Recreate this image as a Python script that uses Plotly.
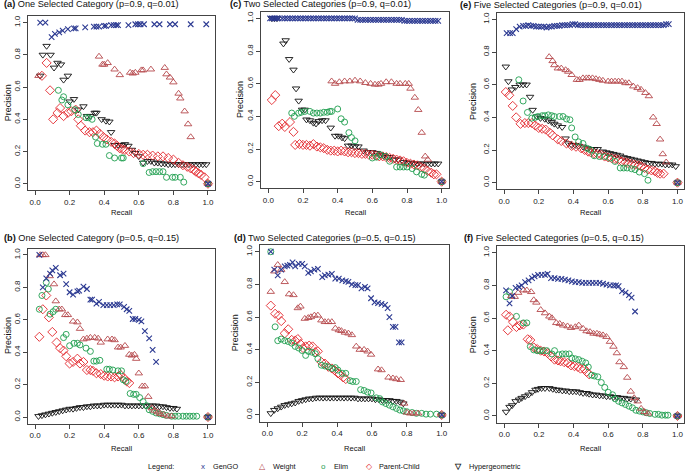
import plotly.graph_objects as go

W, H = 685, 475
FONT = "Liberation Sans, Arial, sans-serif"

# (recall, precision) pairs
a_gengo = [(0.03, 1.0), (0.06, 1.0), (0.096, 0.91), (0.115, 0.93), (0.14, 0.94), (0.16, 0.95),
           (0.19, 0.96), (0.225, 0.965), (0.235, 0.965), (0.29, 0.97), (0.34, 0.975), (0.355, 0.975),
           (0.37, 0.975), (0.40, 0.98), (0.41, 0.98), (0.44, 0.985), (0.455, 0.985), (0.47, 0.985),
           (0.48, 0.985), (0.54, 0.985), (0.58, 0.99), (0.595, 0.99), (0.61, 0.99), (0.63, 0.99),
           (0.69, 0.99), (0.72, 0.99), (0.78, 0.99), (0.81, 0.99), (0.90, 0.99), (0.99, 0.99), (1.0, 0.0)]
a_weight = [(0.02, 0.67), (0.37, 0.79), (0.39, 0.74), (0.40, 0.74), (0.42, 0.75), (0.46, 0.71),
            (0.49, 0.675), (0.55, 0.69), (0.565, 0.685), (0.58, 0.69), (0.615, 0.705), (0.625, 0.705),
            (0.67, 0.71), (0.75, 0.72), (0.76, 0.68), (0.78, 0.66), (0.80, 0.63), (0.83, 0.56),
            (0.84, 0.53), (0.865, 0.45), (0.885, 0.37), (0.90, 0.29), (1.0, 0.0)]
a_elim = [(0.135, 0.58), (0.155, 0.52), (0.165, 0.54), (0.19, 0.49), (0.23, 0.46), (0.25, 0.43),
          (0.295, 0.41), (0.31, 0.41), (0.33, 0.40), (0.35, 0.29), (0.36, 0.25), (0.39, 0.245),
          (0.41, 0.245), (0.43, 0.175), (0.46, 0.16), (0.50, 0.16), (0.51, 0.16), (0.625, 0.125),
          (0.66, 0.07), (0.68, 0.075), (0.70, 0.075), (0.72, 0.075), (0.74, 0.075), (0.76, 0.04),
          (0.795, 0.04), (0.81, 0.04), (0.84, 0.04), (0.86, 0.01), (1.0, 0.0)]
a_pc = [(0.04, 0.67), (0.067, 0.75), (0.087, 0.58), (0.105, 0.40), (0.13, 0.44), (0.145, 0.47),
        (0.165, 0.42), (0.19, 0.44), (0.21, 0.45), (0.235, 0.46), (0.25, 0.40), (0.265, 0.36),
        (0.29, 0.33), (0.315, 0.32), (0.335, 0.32), (0.355, 0.33), (0.375, 0.31), (0.395, 0.29),
        (0.415, 0.275), (0.44, 0.26), (0.46, 0.25), (0.475, 0.235), (0.49, 0.22), (0.505, 0.215),
        (0.52, 0.21), (0.545, 0.20), (0.57, 0.19), (0.60, 0.185), (0.625, 0.18), (0.65, 0.18),
        (0.68, 0.175), (0.71, 0.17), (0.74, 0.17), (0.77, 0.16), (0.80, 0.15), (0.83, 0.13),
        (0.855, 0.115), (0.88, 0.105), (0.90, 0.095), (0.92, 0.085), (0.93, 0.075), (0.945, 0.065),
        (0.96, 0.055), (0.98, 0.04), (1.0, 0.0)]
a_hyper = [(0.03, 0.67), (0.045, 0.80), (0.067, 0.855), (0.09, 0.80), (0.11, 0.72), (0.13, 0.75),
           (0.15, 0.74), (0.165, 0.645), (0.19, 0.67), (0.20, 0.51), (0.225, 0.525), (0.25, 0.46),
           (0.28, 0.48), (0.30, 0.42), (0.32, 0.42), (0.345, 0.44), (0.355, 0.44), (0.385, 0.40),
           (0.41, 0.39), (0.43, 0.385), (0.44, 0.32), (0.46, 0.24), (0.48, 0.24), (0.50, 0.24),
           (0.52, 0.245), (0.54, 0.235), (0.56, 0.21), (0.58, 0.19), (0.60, 0.17), (0.625, 0.13),
           (0.65, 0.14), (0.67, 0.14), (0.69, 0.13), (0.71, 0.13), (0.73, 0.125), (0.75, 0.125),
           (0.77, 0.12), (0.79, 0.12), (0.81, 0.12), (0.83, 0.12), (0.85, 0.12), (0.87, 0.12),
           (0.89, 0.12), (0.91, 0.12), (0.93, 0.12), (0.95, 0.12), (0.97, 0.12), (0.99, 0.12), (1.0, 0.0)]

c_gengo = [(0.01, 1.0), (0.02, 1.0), (0.03, 1.0), (0.04, 1.0), (0.05, 1.0), (0.06, 1.0), (0.08, 1.0),
           (0.095, 1.0), (0.11, 1.0), (0.125, 1.0), (0.14, 1.0), (0.155, 1.0), (0.17, 1.0), (0.185, 1.0),
           (0.20, 1.0), (0.215, 1.0), (0.23, 1.0), (0.245, 1.0), (0.26, 1.0), (0.275, 1.0), (0.29, 1.0),
           (0.305, 1.0), (0.32, 1.0), (0.335, 1.0), (0.35, 1.0), (0.365, 1.0), (0.38, 1.0), (0.395, 1.0),
           (0.41, 1.0), (0.425, 1.0), (0.44, 1.0), (0.455, 1.0), (0.47, 1.0), (0.485, 1.0), (0.50, 1.0),
           (0.515, 0.99), (0.53, 0.99), (0.545, 0.99), (0.56, 0.99), (0.575, 0.99), (0.59, 0.99),
           (0.605, 0.99), (0.62, 0.99), (0.635, 0.99), (0.65, 0.99), (0.665, 0.99), (0.68, 0.99),
           (0.695, 0.99), (0.71, 0.99), (0.725, 0.99), (0.74, 0.99), (0.755, 0.99), (0.77, 0.99),
           (0.785, 0.985), (0.80, 0.985), (0.815, 0.985), (0.83, 0.985), (0.845, 0.985), (0.86, 0.985),
           (0.875, 0.985), (0.89, 0.985), (0.905, 0.985), (0.92, 0.985), (0.935, 0.985), (0.95, 0.985),
           (0.965, 0.985), (0.98, 0.985), (1.0, 0.0)]
c_weight = [(0.365, 0.615), (0.385, 0.60), (0.41, 0.61), (0.44, 0.615), (0.47, 0.615), (0.50, 0.62),
            (0.53, 0.615), (0.56, 0.605), (0.59, 0.60), (0.615, 0.595), (0.635, 0.595), (0.65, 0.60),
            (0.68, 0.61), (0.71, 0.61), (0.74, 0.60), (0.76, 0.60), (0.79, 0.60), (0.81, 0.60),
            (0.82, 0.57), (0.845, 0.515), (0.865, 0.44), (0.885, 0.30), (0.905, 0.155), (0.92, 0.135),
            (1.0, 0.0)]
c_elim = [(0.135, 0.42), (0.15, 0.40), (0.175, 0.42), (0.19, 0.425), (0.21, 0.43), (0.24, 0.43),
          (0.26, 0.42), (0.28, 0.42), (0.30, 0.42), (0.32, 0.425), (0.34, 0.425), (0.355, 0.43),
          (0.365, 0.43), (0.40, 0.445), (0.42, 0.385), (0.44, 0.365), (0.465, 0.30), (0.48, 0.27),
          (0.50, 0.25), (0.60, 0.145), (0.625, 0.15), (0.645, 0.165), (0.675, 0.155), (0.70, 0.125),
          (0.74, 0.09), (0.76, 0.09), (0.78, 0.09), (0.80, 0.09), (0.83, 0.08), (0.855, 0.06),
          (0.885, 0.045), (0.90, 0.04), (1.0, 0.0)]
c_pc = [(0.02, 0.50), (0.04, 0.53), (0.06, 0.34), (0.08, 0.355), (0.095, 0.335), (0.125, 0.365),
        (0.145, 0.305), (0.155, 0.225), (0.18, 0.23), (0.20, 0.225), (0.22, 0.225), (0.24, 0.22),
        (0.26, 0.23), (0.28, 0.215), (0.30, 0.21), (0.32, 0.205), (0.34, 0.195), (0.36, 0.19),
        (0.38, 0.19), (0.40, 0.185), (0.42, 0.19), (0.44, 0.185), (0.46, 0.18), (0.48, 0.18),
        (0.50, 0.175), (0.52, 0.175), (0.54, 0.17), (0.56, 0.17), (0.58, 0.165), (0.60, 0.165),
        (0.62, 0.16), (0.64, 0.155), (0.66, 0.155), (0.68, 0.15), (0.70, 0.145), (0.72, 0.14),
        (0.74, 0.135), (0.76, 0.13), (0.78, 0.125), (0.80, 0.115), (0.82, 0.11), (0.84, 0.105),
        (0.86, 0.10), (0.88, 0.09), (0.90, 0.08), (0.92, 0.065), (0.94, 0.055), (0.955, 0.045),
        (0.97, 0.045), (1.0, 0.0)]
c_hyper = [(0.02, 1.0), (0.035, 1.0), (0.05, 1.0), (0.087, 0.845), (0.10, 0.865), (0.12, 0.75),
           (0.145, 0.685), (0.16, 0.57), (0.175, 0.495), (0.195, 0.44), (0.21, 0.44), (0.22, 0.38),
           (0.24, 0.375), (0.26, 0.36), (0.275, 0.355), (0.29, 0.37), (0.31, 0.375), (0.33, 0.375),
           (0.36, 0.33), (0.385, 0.28), (0.405, 0.28), (0.425, 0.27), (0.44, 0.265), (0.46, 0.22),
           (0.48, 0.22), (0.50, 0.215), (0.52, 0.215), (0.55, 0.19), (0.57, 0.18), (0.60, 0.18),
           (0.625, 0.175), (0.645, 0.165), (0.665, 0.16), (0.685, 0.15), (0.70, 0.15), (0.73, 0.135),
           (0.75, 0.135), (0.78, 0.12), (0.80, 0.115), (0.82, 0.115), (0.84, 0.11), (0.86, 0.11),
           (0.88, 0.11), (0.90, 0.11), (0.92, 0.11), (0.94, 0.11), (0.96, 0.11), (0.98, 0.11), (1.0, 0.0)]

e_gengo = [(0.015, 0.915), (0.035, 0.915), (0.05, 0.915), (0.07, 0.94), (0.09, 0.955), (0.11, 0.96),
           (0.125, 0.96), (0.14, 0.965), (0.155, 0.96), (0.17, 0.96), (0.185, 0.955), (0.20, 0.955),
           (0.215, 0.955), (0.23, 0.955), (0.245, 0.95), (0.26, 0.955), (0.275, 0.955), (0.29, 0.96),
           (0.305, 0.96), (0.32, 0.96), (0.335, 0.965), (0.35, 0.965), (0.365, 0.965), (0.38, 0.965),
           (0.395, 0.97), (0.41, 0.97), (0.425, 0.965), (0.44, 0.965), (0.455, 0.965), (0.47, 0.965),
           (0.485, 0.965), (0.50, 0.965), (0.515, 0.965), (0.53, 0.965), (0.545, 0.965), (0.56, 0.965),
           (0.575, 0.965), (0.59, 0.965), (0.605, 0.965), (0.62, 0.965), (0.635, 0.965), (0.65, 0.965),
           (0.665, 0.965), (0.68, 0.965), (0.695, 0.965), (0.71, 0.965), (0.725, 0.965), (0.74, 0.965),
           (0.755, 0.965), (0.77, 0.965), (0.785, 0.965), (0.80, 0.965), (0.815, 0.965), (0.83, 0.965),
           (0.845, 0.965), (0.86, 0.965), (0.875, 0.965), (0.89, 0.965), (0.905, 0.965), (0.92, 0.965),
           (0.935, 0.97), (0.95, 0.97), (1.0, 0.0)]
e_weight = [(0.26, 0.77), (0.28, 0.745), (0.29, 0.72), (0.31, 0.70), (0.33, 0.70), (0.355, 0.69),
            (0.37, 0.68), (0.39, 0.66), (0.42, 0.63), (0.435, 0.63), (0.455, 0.64), (0.475, 0.64),
            (0.49, 0.64), (0.51, 0.64), (0.53, 0.635), (0.55, 0.63), (0.57, 0.625), (0.60, 0.62),
            (0.62, 0.62), (0.64, 0.62), (0.66, 0.62), (0.68, 0.62), (0.70, 0.61), (0.72, 0.61),
            (0.745, 0.59), (0.77, 0.58), (0.79, 0.57), (0.815, 0.55), (0.835, 0.53), (0.86, 0.40),
            (0.88, 0.36), (0.90, 0.265), (0.915, 0.175), (0.935, 0.125), (1.0, 0.0)]
e_elim = [(0.085, 0.63), (0.11, 0.50), (0.135, 0.43), (0.16, 0.395), (0.18, 0.40), (0.195, 0.405),
          (0.22, 0.41), (0.235, 0.41), (0.255, 0.415), (0.275, 0.41), (0.29, 0.405), (0.32, 0.405),
          (0.34, 0.405), (0.36, 0.39), (0.38, 0.385), (0.39, 0.335), (0.41, 0.28), (0.43, 0.25),
          (0.455, 0.24), (0.48, 0.21), (0.50, 0.20), (0.52, 0.165), (0.55, 0.16), (0.58, 0.16),
          (0.61, 0.15), (0.64, 0.13), (0.67, 0.09), (0.69, 0.09), (0.71, 0.09), (0.735, 0.085),
          (0.755, 0.08), (0.78, 0.065), (0.81, 0.055), (0.83, 0.015), (1.0, 0.0)]
e_pc = [(0.01, 0.555), (0.03, 0.535), (0.05, 0.47), (0.07, 0.40), (0.095, 0.36), (0.12, 0.365),
        (0.14, 0.365), (0.16, 0.365), (0.18, 0.35), (0.20, 0.335), (0.22, 0.33), (0.24, 0.325),
        (0.265, 0.305), (0.28, 0.29), (0.31, 0.265), (0.33, 0.255), (0.36, 0.24), (0.39, 0.225),
        (0.415, 0.22), (0.445, 0.21), (0.465, 0.20), (0.485, 0.19), (0.50, 0.185), (0.52, 0.18),
        (0.54, 0.175), (0.56, 0.17), (0.58, 0.16), (0.60, 0.155), (0.62, 0.15), (0.64, 0.145),
        (0.66, 0.14), (0.68, 0.13), (0.70, 0.125), (0.715, 0.12), (0.735, 0.115), (0.755, 0.11),
        (0.775, 0.105), (0.79, 0.10), (0.81, 0.09), (0.83, 0.08), (0.85, 0.075), (0.87, 0.07),
        (0.885, 0.06), (0.90, 0.055), (0.92, 0.055), (1.0, 0.0)]
e_hyper = [(0.01, 0.71), (0.025, 0.62), (0.045, 0.57), (0.065, 0.585), (0.09, 0.60), (0.11, 0.60),
           (0.13, 0.60), (0.15, 0.525), (0.165, 0.445), (0.19, 0.405), (0.21, 0.395), (0.235, 0.39),
           (0.255, 0.38), (0.275, 0.37), (0.29, 0.36), (0.31, 0.35), (0.335, 0.34), (0.355, 0.27),
           (0.37, 0.24), (0.39, 0.23), (0.41, 0.23), (0.43, 0.225), (0.455, 0.22), (0.48, 0.21),
           (0.50, 0.205), (0.52, 0.205), (0.54, 0.205), (0.57, 0.19), (0.59, 0.185), (0.61, 0.18),
           (0.63, 0.175), (0.65, 0.17), (0.67, 0.165), (0.69, 0.155), (0.71, 0.15), (0.73, 0.145),
           (0.75, 0.14), (0.77, 0.135), (0.79, 0.13), (0.81, 0.125), (0.83, 0.12), (0.85, 0.12),
           (0.87, 0.115), (0.89, 0.115), (0.91, 0.115), (0.93, 0.11), (0.95, 0.11), (0.97, 0.11),
           (0.99, 0.10), (1.0, 0.0)]

b_gengo = [(0.025, 1.0), (0.045, 0.80), (0.065, 0.855), (0.087, 0.885), (0.10, 0.905), (0.12, 0.92),
           (0.145, 0.875), (0.165, 0.885), (0.18, 0.82), (0.20, 0.77), (0.22, 0.755), (0.245, 0.775),
           (0.255, 0.78), (0.28, 0.805), (0.30, 0.79), (0.32, 0.725), (0.33, 0.725), (0.355, 0.70),
           (0.37, 0.71), (0.395, 0.69), (0.415, 0.69), (0.435, 0.69), (0.455, 0.69), (0.475, 0.695),
           (0.49, 0.695), (0.515, 0.68), (0.53, 0.665), (0.545, 0.655), (0.565, 0.605), (0.58, 0.605),
           (0.60, 0.60), (0.615, 0.59), (0.635, 0.53), (0.66, 0.485), (0.68, 0.415), (0.70, 0.34),
           (1.0, 0.0)]
b_weight = [(0.03, 1.0), (0.045, 1.0), (0.06, 1.0), (0.085, 0.87), (0.11, 0.82), (0.12, 0.715),
            (0.14, 0.665), (0.155, 0.665), (0.175, 0.63), (0.19, 0.63), (0.22, 0.59), (0.245, 0.585),
            (0.26, 0.545), (0.28, 0.48), (0.30, 0.485), (0.32, 0.49), (0.345, 0.49), (0.365, 0.485),
            (0.38, 0.46), (0.42, 0.48), (0.445, 0.48), (0.46, 0.475), (0.48, 0.43), (0.495, 0.43),
            (0.52, 0.44), (0.545, 0.385), (0.56, 0.38), (0.575, 0.385), (0.585, 0.36), (0.60, 0.27),
            (0.62, 0.19), (0.635, 0.19), (0.655, 0.125), (0.675, 0.055), (0.69, 0.04), (0.71, 0.03),
            (0.725, 0.02), (0.745, 0.015), (0.77, 0.005), (0.79, 0.005), (1.0, 0.0)]
b_elim = [(0.025, 0.665), (0.04, 0.75), (0.065, 0.83), (0.077, 0.79), (0.087, 0.635), (0.105, 0.65),
          (0.12, 0.665), (0.165, 0.49), (0.18, 0.51), (0.20, 0.44), (0.225, 0.455), (0.245, 0.455),
          (0.26, 0.445), (0.295, 0.425), (0.32, 0.405), (0.34, 0.345), (0.355, 0.345), (0.375, 0.35),
          (0.415, 0.295), (0.43, 0.295), (0.45, 0.29), (0.48, 0.285), (0.50, 0.285), (0.51, 0.23),
          (0.525, 0.22), (0.55, 0.145), (0.57, 0.14), (0.585, 0.14), (0.605, 0.12), (0.625, 0.095),
          (0.645, 0.07), (0.66, 0.045), (0.68, 0.035), (0.70, 0.025), (0.72, 0.02), (0.74, 0.015),
          (0.76, 0.01), (0.79, 0.005), (0.81, 0.005), (0.83, 0.005), (0.855, 0.005), (0.875, 0.005),
          (0.895, 0.005), (0.915, 0.005), (0.935, 0.005), (1.0, 0.0)]
b_pc = [(0.025, 0.495), (0.045, 0.665), (0.065, 0.75), (0.08, 0.615), (0.10, 0.525), (0.125, 0.46),
        (0.145, 0.425), (0.165, 0.41), (0.18, 0.375), (0.20, 0.33), (0.22, 0.34), (0.245, 0.36),
        (0.26, 0.33), (0.28, 0.34), (0.30, 0.29), (0.32, 0.29), (0.335, 0.285), (0.355, 0.27),
        (0.38, 0.265), (0.40, 0.255), (0.42, 0.25), (0.44, 0.25), (0.46, 0.245), (0.48, 0.25),
        (0.495, 0.26), (0.515, 0.24), (0.53, 0.22), (0.545, 0.21), (1.0, 0.0)]
b_hyper = [(0.02, 0.005), (0.04, 0.01), (0.06, 0.015), (0.08, 0.02), (0.10, 0.025), (0.12, 0.03),
           (0.14, 0.035), (0.16, 0.04), (0.18, 0.045), (0.20, 0.05), (0.22, 0.05), (0.24, 0.055),
           (0.26, 0.06), (0.28, 0.06), (0.30, 0.065), (0.32, 0.065), (0.34, 0.07), (0.36, 0.07),
           (0.38, 0.07), (0.40, 0.075), (0.42, 0.075), (0.44, 0.075), (0.46, 0.075), (0.48, 0.075),
           (0.50, 0.075), (0.52, 0.07), (0.54, 0.07), (0.56, 0.07), (0.58, 0.07), (0.60, 0.07),
           (0.62, 0.07), (0.64, 0.07), (0.66, 0.07), (0.68, 0.07), (0.70, 0.07), (0.72, 0.065),
           (0.74, 0.065), (0.76, 0.06), (0.78, 0.055), (0.80, 0.055), (0.82, 0.05), (1.0, 0.0)]

d_gengo = [(0.02, 1.0), (0.04, 0.89), (0.06, 0.855), (0.08, 0.89), (0.10, 0.91), (0.115, 0.915),
           (0.13, 0.92), (0.145, 0.935), (0.16, 0.91), (0.18, 0.925), (0.20, 0.925), (0.215, 0.91),
           (0.235, 0.87), (0.25, 0.88), (0.27, 0.89), (0.29, 0.895), (0.315, 0.845), (0.33, 0.855),
           (0.35, 0.86), (0.37, 0.865), (0.39, 0.835), (0.41, 0.835), (0.43, 0.825), (0.45, 0.82),
           (0.465, 0.815), (0.485, 0.80), (0.505, 0.795), (0.52, 0.795), (0.54, 0.775), (0.56, 0.785),
           (0.575, 0.775), (0.595, 0.715), (0.615, 0.69), (0.635, 0.685), (0.655, 0.68), (0.675, 0.675),
           (0.69, 0.655), (0.70, 0.60), (0.72, 0.54), (0.735, 0.54), (0.755, 0.445), (0.77, 0.445),
           (1.0, 0.0)]
d_weight = [(0.02, 0.755), (0.04, 0.88), (0.06, 0.92), (0.08, 0.89), (0.10, 0.815), (0.125, 0.74),
            (0.15, 0.735), (0.175, 0.655), (0.19, 0.665), (0.215, 0.59), (0.235, 0.595), (0.25, 0.60),
            (0.27, 0.61), (0.29, 0.61), (0.31, 0.58), (0.33, 0.57), (0.35, 0.57), (0.37, 0.57),
            (0.39, 0.53), (0.41, 0.52), (0.425, 0.515), (0.445, 0.505), (0.465, 0.50), (0.485, 0.49),
            (0.51, 0.42), (0.53, 0.40), (0.555, 0.40), (0.575, 0.39), (0.595, 0.37), (0.635, 0.28),
            (0.655, 0.275), (0.695, 0.23), (0.72, 0.225), (0.74, 0.22), (0.765, 0.215), (0.785, 0.07),
            (0.80, 0.015), (0.82, 0.01), (0.84, 0.01), (0.865, 0.01), (1.0, 0.0)]
d_elim = [(0.02, 1.0), (0.045, 0.54), (0.06, 0.455), (0.08, 0.465), (0.10, 0.455), (0.12, 0.45),
          (0.14, 0.44), (0.16, 0.42), (0.18, 0.41), (0.20, 0.395), (0.22, 0.365), (0.235, 0.39),
          (0.255, 0.385), (0.275, 0.375), (0.29, 0.345), (0.31, 0.305), (0.33, 0.30), (0.35, 0.295),
          (0.37, 0.285), (0.39, 0.29), (0.405, 0.275), (0.43, 0.255), (0.45, 0.255), (0.475, 0.21),
          (0.49, 0.205), (0.51, 0.205), (0.535, 0.155), (0.555, 0.15), (0.575, 0.14), (0.595, 0.135),
          (0.625, 0.105), (0.645, 0.10), (0.66, 0.08), (0.68, 0.07), (0.70, 0.06), (0.72, 0.05),
          (0.74, 0.04), (0.76, 0.03), (0.78, 0.025), (0.80, 0.02), (0.83, 0.015), (0.855, 0.01),
          (0.885, 0.01), (0.91, 0.005), (0.935, 0.005), (0.97, 0.005), (1.0, 0.0)]
d_pc = [(0.02, 0.67), (0.045, 0.62), (0.065, 0.61), (0.08, 0.575), (0.10, 0.50), (0.12, 0.525),
        (0.14, 0.46), (0.16, 0.455), (0.175, 0.465), (0.19, 0.435), (0.205, 0.41), (0.22, 0.42),
        (0.24, 0.425), (0.26, 0.42), (0.275, 0.385), (0.29, 0.39), (0.31, 0.325), (0.33, 0.315),
        (0.35, 0.295), (0.37, 0.285), (0.385, 0.275), (0.405, 0.255), (0.415, 0.25), (0.435, 0.23),
        (0.45, 0.22), (1.0, 0.0)]
d_hyper = [(0.02, 0.01), (0.04, 0.03), (0.06, 0.04), (0.08, 0.05), (0.10, 0.06), (0.12, 0.065),
           (0.14, 0.07), (0.16, 0.075), (0.18, 0.085), (0.20, 0.09), (0.22, 0.095), (0.24, 0.10),
           (0.26, 0.10), (0.28, 0.105), (0.30, 0.105), (0.32, 0.105), (0.34, 0.105), (0.36, 0.105),
           (0.38, 0.105), (0.40, 0.105), (0.42, 0.105), (0.44, 0.105), (0.46, 0.105), (0.48, 0.105),
           (0.50, 0.105), (0.52, 0.10), (0.54, 0.10), (0.56, 0.10), (0.58, 0.10), (0.60, 0.10),
           (0.62, 0.095), (0.64, 0.095), (0.66, 0.09), (0.68, 0.09), (0.70, 0.09), (0.72, 0.085),
           (0.74, 0.085), (0.76, 0.08), (0.78, 0.07), (1.0, 0.0)]

f_gengo = [(0.01, 0.77), (0.03, 0.69), (0.045, 0.735), (0.065, 0.785), (0.085, 0.79), (0.10, 0.80),
           (0.12, 0.82), (0.14, 0.83), (0.16, 0.845), (0.175, 0.855), (0.195, 0.865), (0.215, 0.865),
           (0.235, 0.865), (0.25, 0.87), (0.27, 0.845), (0.29, 0.845), (0.31, 0.84), (0.33, 0.84),
           (0.35, 0.835), (0.37, 0.83), (0.39, 0.825), (0.41, 0.82), (0.43, 0.82), (0.45, 0.815),
           (0.47, 0.815), (0.49, 0.815), (0.51, 0.815), (0.53, 0.815), (0.55, 0.815), (0.57, 0.81),
           (0.59, 0.805), (0.61, 0.80), (0.63, 0.80), (0.645, 0.80), (0.66, 0.795), (0.68, 0.765),
           (0.70, 0.755), (0.72, 0.74), (0.735, 0.725), (0.755, 0.64), (1.0, 0.0)]
f_weight = [(0.04, 0.735), (0.06, 0.73), (0.08, 0.755), (0.11, 0.77), (0.13, 0.77), (0.155, 0.76),
            (0.17, 0.71), (0.185, 0.695), (0.21, 0.65), (0.235, 0.63), (0.26, 0.61), (0.275, 0.60),
            (0.30, 0.57), (0.32, 0.565), (0.34, 0.555), (0.365, 0.55), (0.385, 0.54), (0.41, 0.545),
            (0.43, 0.555), (0.455, 0.535), (0.475, 0.52), (0.495, 0.515), (0.515, 0.505), (0.535, 0.505),
            (0.55, 0.50), (0.57, 0.495), (0.59, 0.485), (0.61, 0.455), (0.63, 0.425), (0.65, 0.385),
            (0.665, 0.33), (0.69, 0.30), (0.71, 0.235), (0.73, 0.15), (0.75, 0.11), (0.77, 0.09),
            (0.79, 0.045), (0.81, 0.025), (0.83, 0.015), (1.0, 0.0)]
f_elim = [(0.01, 0.73), (0.03, 0.76), (0.07, 0.61), (0.11, 0.57), (0.13, 0.57), (0.15, 0.425),
          (0.17, 0.405), (0.19, 0.40), (0.205, 0.40), (0.225, 0.40), (0.245, 0.40), (0.275, 0.38),
          (0.29, 0.40), (0.315, 0.375), (0.335, 0.38), (0.355, 0.38), (0.375, 0.38), (0.39, 0.355),
          (0.41, 0.35), (0.43, 0.345), (0.45, 0.335), (0.47, 0.325), (0.485, 0.30), (0.505, 0.25),
          (0.52, 0.245), (0.54, 0.24), (0.56, 0.205), (0.58, 0.175), (0.60, 0.145), (0.625, 0.13),
          (0.64, 0.105), (0.66, 0.09), (0.68, 0.08), (0.70, 0.07), (0.72, 0.06), (0.74, 0.05),
          (0.76, 0.035), (0.78, 0.03), (0.80, 0.025), (0.82, 0.02), (0.84, 0.015), (0.87, 0.01),
          (0.89, 0.01), (0.91, 0.005), (0.93, 0.005), (0.945, 0.005), (1.0, 0.0)]
f_pc = [(0.01, 0.62), (0.02, 0.525), (0.03, 0.61), (0.05, 0.575), (0.07, 0.545), (0.09, 0.555),
        (0.11, 0.56), (0.135, 0.47), (0.15, 0.465), (0.17, 0.42), (0.19, 0.41), (0.21, 0.40),
        (0.23, 0.395), (0.25, 0.385), (0.27, 0.365), (0.29, 0.345), (0.31, 0.34), (0.325, 0.335),
        (0.345, 0.33), (0.365, 0.325), (0.385, 0.31), (0.405, 0.305), (0.425, 0.30), (0.44, 0.29),
        (0.46, 0.29), (0.475, 0.27), (0.49, 0.255), (1.0, 0.0)]
f_hyper = [(0.01, 0.025), (0.03, 0.055), (0.045, 0.065), (0.065, 0.09), (0.085, 0.10), (0.10, 0.11),
           (0.12, 0.12), (0.14, 0.13), (0.16, 0.145), (0.18, 0.16), (0.195, 0.165), (0.215, 0.17),
           (0.235, 0.17), (0.26, 0.17), (0.28, 0.165), (0.30, 0.16), (0.315, 0.16), (0.335, 0.155),
           (0.355, 0.155), (0.375, 0.15), (0.395, 0.15), (0.415, 0.15), (0.435, 0.145), (0.455, 0.14),
           (0.475, 0.14), (0.49, 0.135), (0.51, 0.13), (0.53, 0.13), (0.55, 0.125), (0.57, 0.125),
           (0.59, 0.12), (0.61, 0.12), (0.63, 0.115), (0.65, 0.115), (0.67, 0.11), (0.69, 0.11),
           (0.71, 0.105), (0.73, 0.105), (0.76, 0.10), (1.0, 0.0)]

METHODS = ["GenGO", "Weight", "Elim", "Parent-Child", "Hypergeometric"]
TICKS = [0.0, 0.2, 0.4, 0.6, 0.8, 1.0]

STYLE = {
    "GenGO": dict(symbol="x-thin", size=5.5, color="#2C3A92", line=dict(width=1.1, color="#2C3A92")),
    "Weight": dict(symbol="triangle-up-open", size=6.5, color="#B5484C", line=dict(width=0.9, color="#B5484C")),
    "Elim": dict(symbol="circle-open", size=6, color="#1E9E4E", line=dict(width=0.9, color="#1E9E4E")),
    "Parent-Child": dict(symbol="diamond-open", size=7, color="#E3262B", line=dict(width=0.9, color="#E3262B")),
    "Hypergeometric": dict(symbol="triangle-down-open", size=6.5, color="#111111", line=dict(width=0.9, color="#111111")),
}

# letter, title, series, box in px (x0, x1, ytop, ybottom), title pos, "Precision" x, "Recall" y
PANELS = [
    ("a", "One Selected Category (p=0.9, q=0.01)", [a_gengo, a_weight, a_elim, a_pc, a_hyper],
     (28.1, 214.9, 16.2, 190.2), (2, 4), 8, 212),
    ("c", "Two Selected Categories (p=0.9, q=0.01)", [c_gengo, c_weight, c_elim, c_pc, c_hyper],
     (261.4, 448.6, 11.8, 188.2), (228, 4), 240, 212),
    ("e", "Five Selected Categories (p=0.9, q=0.01)", [e_gengo, e_weight, e_elim, e_pc, e_hyper],
     (497.1, 684.4, 12.8, 189.2), (458, 5), 473, 212),
    ("b", "One Selected Category (p=0.5, q=0.15)", [b_gengo, b_weight, b_elim, b_pc, b_hyper],
     (28.1, 214.9, 248.5, 423.5), (2, 238), 8, 448),
    ("d", "Two Selected Categories (p=0.5, q=0.15)", [d_gengo, d_weight, d_elim, d_pc, d_hyper],
     (260.3, 448.7, 245.2, 421.5), (232, 238), 235, 448),
    ("f", "Five Selected Categories (p=0.5, q=0.15)", [f_gengo, f_weight, f_elim, f_pc, f_hyper],
     (497.4, 684.4, 246.2, 422.5), (462, 238), 473, 448),
]

fig = go.Figure()
annotations = []

def px(x):
    return x / W

def py(y):
    return 1 - y / H

def text_at(x, y, text, size, **kw):
    annotations.append(dict(
        x=px(x), y=py(y), xref="paper", yref="paper", text=text, showarrow=False,
        font=dict(family=FONT, size=size, color=kw.pop("color", "#111")), **kw))

for i, (letter, title, series, box, tpos, prec_x, recall_y) in enumerate(PANELS):
    n = "" if i == 0 else str(i + 1)
    x0, x1, ytop, ybot = box
    common = dict(
        range=[-0.04, 1.04], showline=True, mirror=True, linecolor="#444", linewidth=1,
        ticks="outside", ticklen=4, tickcolor="#444", tickwidth=1,
        tickvals=TICKS, ticktext=[f"{t:.1f}" for t in TICKS],
        tickfont=dict(family=FONT, size=8, color="#222"),
        showgrid=False, zeroline=False, automargin=False, fixedrange=True,
    )
    fig.update_layout({
        f"xaxis{n}": dict(domain=[px(x0), px(x1)], anchor=f"y{n}", **common),
        f"yaxis{n}": dict(domain=[py(ybot), py(ytop)], anchor=f"x{n}", tickangle=-90, **common),
    })
    # draw hypergeometric first so the coloured methods sit on top
    for name, pts in reversed(list(zip(METHODS, series))):
        fig.add_trace(go.Scatter(
            x=[p[0] for p in pts], y=[p[1] for p in pts], mode="markers", name=name,
            xaxis=f"x{n}", yaxis=f"y{n}", marker=STYLE[name], showlegend=False,
            cliponaxis=False,
        ))
    text_at(tpos[0], tpos[1], f"<b>({letter})</b> {title}", 9.2, xanchor="left", yanchor="middle")
    text_at(prec_x, (ytop + ybot) / 2, "Precision", 9, textangle=-90, xanchor="center", yanchor="middle")
    text_at((x0 + x1) / 2, recall_y, "Recall", 7.6, xanchor="center", yanchor="middle")

# legend row along the bottom
text_at(146, 466, "Legend:", 7.3, xanchor="left", yanchor="middle")
LEGEND_ROW = [
    ("GenGO", "x", 203, 211),
    ("Weight", "\u25b3", 262, 271),
    ("Elim", "o", 323, 332),
    ("Parent-Child", "\u25c7", 369, 377),
    ("Hypergeometric", "<b>\u25bd</b>", 458, 467),
]
for name, glyph, sx, tx in LEGEND_ROW:
    text_at(sx, 466, glyph, 8, xanchor="center", yanchor="middle", color=STYLE[name]["color"])
    text_at(tx, 466, name, 7.3, xanchor="left", yanchor="middle")

fig.update_layout(
    width=W, height=H, margin=dict(l=0, r=0, t=0, b=0),
    paper_bgcolor="white", plot_bgcolor="white",
    font=dict(family=FONT, color="#111"),
    annotations=annotations, showlegend=False,
)

# the page's default body margin would shift the figure 8px; pin it to the corner
fig.write_html("out.html", config={"displayModeBar": False},
               post_script="document.body.style.margin = '0';")
